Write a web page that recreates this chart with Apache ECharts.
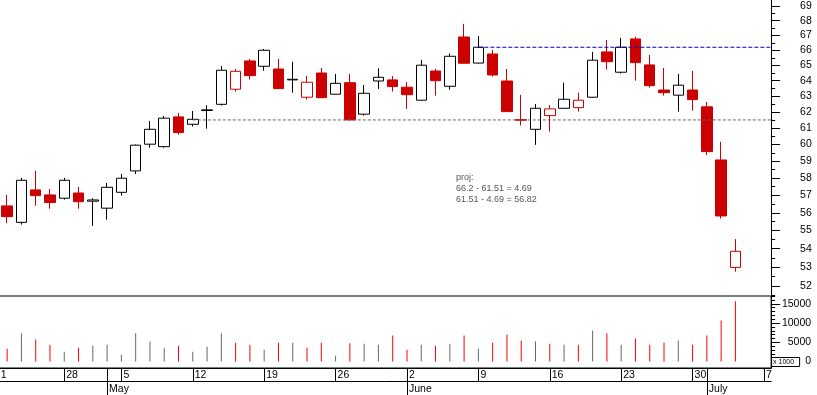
<!DOCTYPE html>
<html><head><meta charset="utf-8">
<script src="https://cdn.jsdelivr.net/npm/echarts@6/dist/echarts.min.js"></script>
<style>html,body{margin:0;padding:0;background:#fff}#c{width:817px;height:395px}</style>
</head><body><div id="c"></div>
<script>
// ---------- data ----------
const axisDates = [
 '2008-04-21','2008-04-22','2008-04-23','2008-04-24','2008-04-25','2008-04-28','2008-04-29','2008-04-30',
 '2008-05-02','2008-05-05','2008-05-06','2008-05-07','2008-05-08','2008-05-09','2008-05-12','2008-05-13',
 '2008-05-14','2008-05-15','2008-05-16','2008-05-19','2008-05-20','2008-05-21','2008-05-22','2008-05-23',
 '2008-05-26','2008-05-27','2008-05-28','2008-05-29','2008-05-30','2008-06-02','2008-06-03','2008-06-04',
 '2008-06-05','2008-06-06','2008-06-09','2008-06-10','2008-06-11','2008-06-12','2008-06-13','2008-06-16',
 '2008-06-17','2008-06-18','2008-06-19','2008-06-20','2008-06-23','2008-06-24','2008-06-25','2008-06-26',
 '2008-06-27','2008-06-30','2008-07-01','2008-07-02','2008-07-03','2008-07-04','2008-07-07'
];
const dataDates = axisDates.slice(1, 53);
const opens  = [56.39,55.46,57.31,57.02,56.83,57.13,56.66,56.26,57.17,58.42,60.02,59.87,61.70,61.24,62.10,62.49,63.45,65.29,64.94,64.76,64.05,62.94,64.50,63.13,63.87,61.87,63.98,64.05,63.58,62.75,64.63,63.64,66.89,65.15,65.75,63.98,61.53,60.93,61.78,62.24,62.28,62.94,65.89,64.55,66.76,65.03,63.40,63.07,63.40,62.33,59.07,52.99];
const closes = [55.78,57.87,56.98,56.58,57.87,56.63,56.73,57.46,57.99,59.96,60.93,61.62,60.73,61.55,62.14,64.68,64.61,64.33,66.00,63.49,64.09,63.90,62.91,63.83,61.51,63.19,64.22,63.62,63.10,65.01,64.00,65.60,65.14,66.20,64.37,62.03,61.49,62.24,62.20,62.81,62.75,65.34,65.24,66.20,65.18,63.68,63.23,63.71,62.79,59.57,55.82,53.86];
const lows   = [55.41,55.33,56.40,56.23,56.75,56.23,55.26,55.61,56.98,58.24,59.81,59.81,60.60,61.10,60.97,62.41,63.30,64.07,64.65,63.47,63.23,62.79,62.89,63.11,61.49,61.78,63.47,63.30,62.20,62.73,63.04,63.42,65.12,65.12,64.26,62.01,61.16,59.98,60.79,62.22,62.03,62.92,64.72,64.46,64.00,63.55,63.04,62.03,62.09,59.37,55.67,52.76];
const highs  = [57.02,58.01,58.42,57.36,58.01,57.48,56.83,57.71,58.24,60.00,61.45,61.76,61.95,62.07,62.43,64.96,64.76,65.42,66.09,65.42,65.23,64.31,64.83,64.44,64.44,63.72,64.81,64.31,63.92,65.36,64.78,65.78,67.78,66.96,66.02,64.76,63.09,62.51,62.44,63.87,63.23,65.89,66.69,66.83,66.91,65.69,64.83,64.44,64.63,62.64,60.16,54.53];
const volumes = [3300,7370,5700,4390,2540,3600,4120,4390,1750,7370,5180,3600,4120,2540,3860,7370,4910,4390,3070,4910,4910,3600,4910,1490,4740,4650,4390,6750,3070,4390,4120,4650,6750,3330,4910,7020,5440,5180,4650,4390,4390,8070,7280,4390,5960,4390,4910,5440,4390,6750,10700,15700];

const priceTicks = [52,53,54,55,56,57,58,59,60,61,62,63,64,65,66,67,68,69];
const volumeTicks = [0,5000,10000,15000];
const volumeMinorTicks = [1000,2000,3000,4000,6000,7000,8000,9000,11000,12000,13000,14000,16000,17000];
const monthNames = {'05':'May','06':'June','07':'July'};

const supportLevel = 61.51, supportStart = '2008-05-12';
const resistLevel = 66.2, resistStart = '2008-06-09';
const projLines = ['proj:', '66.2 - 61.51 = 4.69', '61.51 - 4.69 = 56.82'];

// ---------- styling ----------
const FONT = '"Liberation Sans", Arial, sans-serif';
const RED = '#cc0000', VRED = '#ff0000', VGRAY = '#666666';
const N = axisDates.length;
const SLOT = 14.28;

const isMonday = i => new Date(axisDates[i] + 'T00:00:00Z').getUTCDay() === 1;
const isMonthStart = i => i > 0 && axisDates[i].slice(5, 7) !== axisDates[i - 1].slice(5, 7);

const candleData = [], volData = [];
dataDates.forEach((d, i) => {
  const o = opens[i], c = closes[i];
  const prev = i > 0 ? closes[i - 1] : o;
  const isRed = c < prev;
  const col = isRed ? RED : '#000';
  const style = c >= o
    ? { color: '#ffffff', borderColor: col, color0: '#ffffff', borderColor0: col }
    : { color: RED, borderColor: RED, color0: RED, borderColor0: RED };
  candleData.push({ value: [d, o, c, lows[i], highs[i]], itemStyle: style });
  volData.push({ value: [d, volumes[i]], itemStyle: { color: isRed ? VRED : VGRAY } });
});

const levelLine = (start, level, color, dash) => ({
  type: 'line', xAxisIndex: 1, yAxisIndex: 0, symbol: 'none', silent: true, z: 5,
  data: [[axisDates.indexOf(start), level], [N - 0.5, level]],
  lineStyle: { color: color, width: 1, type: dash }
});

const axisLineOn = { show: true, onZero: false, lineStyle: { color: '#000', width: 1 } };
const axisLineOff = { show: false, onZero: false };

const left = -SLOT, rightEdge = left + N * SLOT;
const chart = echarts.init(document.getElementById('c'), null, { renderer: 'canvas' });
chart.setOption({
  animation: false,
  backgroundColor: '#fff',
  textStyle: { fontFamily: FONT },
  grid: [
    { left: left, width: N * SLOT, top: 0, height: 296, show: false, containLabel: false, outerBoundsMode: 'none' },
    { left: left, width: N * SLOT, top: 296, height: 72, show: true, borderColor: '#000', borderWidth: 1, backgroundColor: 'transparent', containLabel: false, outerBoundsMode: 'none' }
  ],
  xAxis: [
    { type: 'category', gridIndex: 0, data: axisDates, show: false, boundaryGap: true, axisLine: axisLineOff },
    { type: 'value', gridIndex: 0, min: -0.5, max: N - 0.5, show: false, axisLine: axisLineOff },
    { type: 'category', gridIndex: 1, data: axisDates, position: 'bottom', boundaryGap: true,
      axisLine: axisLineOn,
      axisTick: { show: true, alignWithLabel: true, length: 13.5, interval: (i) => isMonday(i) || isMonthStart(i), lineStyle: { color: '#000' } },
      axisLabel: { interval: (i) => isMonday(i), formatter: v => String(Number(v.slice(8))), align: 'left', padding: [0,0,0,2],
        margin: 1, lineHeight: 12, fontSize: 10.5, color: '#000', fontFamily: FONT },
      splitLine: { show: false } },
    { type: 'category', gridIndex: 1, data: axisDates, position: 'bottom', offset: 13.5, boundaryGap: true,
      axisLine: axisLineOn,
      axisTick: { show: true, alignWithLabel: true, length: 14, interval: (i) => isMonthStart(i), lineStyle: { color: '#000' } },
      axisLabel: { interval: (i) => isMonthStart(i), formatter: v => monthNames[v.slice(5, 7)] || '', align: 'left', padding: [0,0,0,2],
        margin: 1.5, lineHeight: 12, fontSize: 10.5, color: '#000', fontFamily: FONT },
      splitLine: { show: false } }
  ],
  yAxis: [
    { type: 'log', gridIndex: 0, position: 'right', min: 51.48, max: 69.44, logBase: 10,
      axisLine: axisLineOn,
      axisTick: { show: true, length: 9, customValues: priceTicks, lineStyle: { color: '#000' } },
      axisLabel: { customValues: priceTicks, margin: 29, fontSize: 10.5, color: '#000', fontFamily: FONT, padding: [4,0,0,0], formatter: v => String(Math.round(v)) },
      splitLine: { show: false } },
    { type: 'log', gridIndex: 0, position: 'right', min: 51.48, max: 69.44, logBase: 10,
      axisLine: axisLineOff,
      axisTick: { show: true, length: 4, customValues: priceTicks.map(v => v - 0.5), lineStyle: { color: '#000' } },
      axisLabel: { show: false }, splitLine: { show: false } },
    { type: 'value', gridIndex: 1, position: 'right', min: -1693, max: 17057,
      axisLine: axisLineOn,
      axisTick: { show: true, length: 9, customValues: volumeTicks, lineStyle: { color: '#000' } },
      axisLabel: { customValues: volumeTicks, margin: 40, align: 'right', fontSize: 10.5, color: '#000', fontFamily: FONT, formatter: v => String(v) },
      splitLine: { show: false } },
    { type: 'value', gridIndex: 1, position: 'right', min: -1693, max: 17057,
      axisLine: axisLineOff,
      axisTick: { show: true, length: 4, customValues: volumeMinorTicks, lineStyle: { color: '#000' } },
      axisLabel: { show: false }, splitLine: { show: false } }
  ],
  series: [
    { type: 'candlestick', xAxisIndex: 0, yAxisIndex: 0, barWidth: 11, z: 2,
      encode: { x: 0, y: [1, 2, 3, 4] }, data: candleData,
      itemStyle: { borderWidth: 1 } },
    levelLine(supportStart, supportLevel, '#666666', [3, 2]),
    levelLine(resistStart, resistLevel, '#0000cc', [4, 2]),
    { type: 'bar', xAxisIndex: 2, yAxisIndex: 2, barWidth: 1, data: volData, encode: { x: 0, y: 1 } }
  ],
  graphic: [
    { type: 'text', left: 456, top: 172, z: 10,
      style: { text: projLines.join('\n'), font: '9px ' + FONT, fill: '#555555', lineHeight: 11 } },
    { type: 'rect', shape: { x: rightEdge + 0.5, y: 357.5, width: 28, height: 9 }, z: 10,
      style: { fill: '#ffffff', stroke: '#000', lineWidth: 1 } },
    { type: 'text', x: rightEdge + 2, y: 358.5, z: 11,
      style: { text: 'x 1000', font: '7px ' + FONT, fill: '#000' } }
  ]
});
</script></body></html>
